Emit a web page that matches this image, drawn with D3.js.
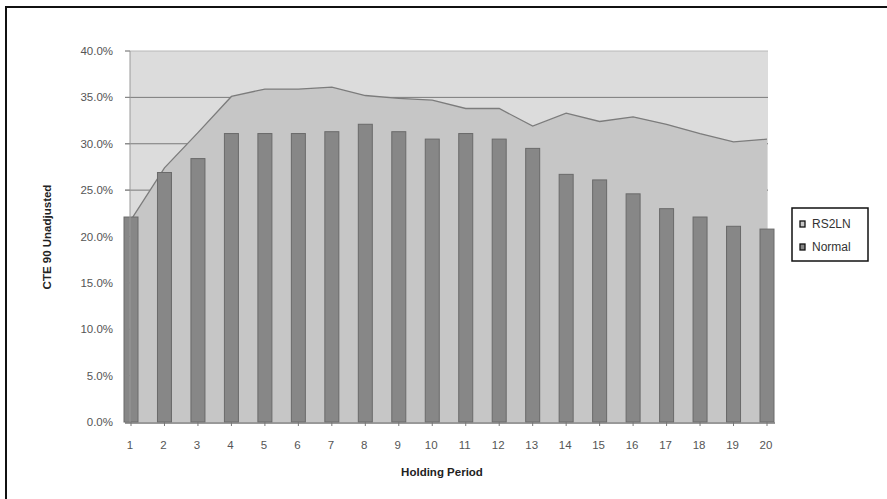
<!DOCTYPE html>
<html><head><meta charset="utf-8">
<script src="https://cdn.jsdelivr.net/npm/d3@7"></script>
<style>body{margin:0;background:#fff}svg{display:block}text{font-family:"Liberation Sans",Arial,sans-serif}</style>
</head><body><svg id="c" width="887" height="499"></svg>
<script>
const categories = [1,2,3,4,5,6,7,8,9,10,11,12,13,14,15,16,17,18,19,20];
const rs2ln = [21.8,27.4,31.2,35.1,35.9,35.9,36.1,35.2,34.9,34.7,33.8,33.8,31.9,33.3,32.4,32.9,32.1,31.1,30.2,30.5];
const normal = [22.1,26.9,28.4,31.1,31.1,31.1,31.3,32.1,31.3,30.5,31.1,30.5,29.5,26.7,26.1,24.6,23.0,22.1,21.1,20.8];
const yTicks = [0,5,10,15,20,25,30,35,40];
const seriesNames = ["RS2LN","Normal"];

const svg = d3.select("#c");
const x = d3.scaleLinear().domain([1,20]).range([131,767]);
const y = d3.scaleLinear().domain([0,40]).range([422,51]);
const barW = 14;

// frame (top and left only, as in scan)
svg.append("line").attr("x1",6).attr("x2",887).attr("y1",7).attr("y2",7).attr("stroke","#111").attr("stroke-width",2);
svg.append("line").attr("x1",6).attr("x2",6).attr("y1",6).attr("y2",499).attr("stroke","#111").attr("stroke-width",2);

// plot background
svg.append("rect").attr("x",130).attr("y",y(40)).attr("width",768-130).attr("height",y(0)-y(40)).attr("fill","#dcdcdc");

// gridlines
svg.append("g").selectAll("line").data(yTicks.filter(d=>d>0)).join("line")
  .attr("x1",125).attr("x2",768).attr("y1",d=>y(d)).attr("y2",d=>y(d))
  .attr("stroke",d=>d===40?"#b8b8b8":"#7a7a7a").attr("stroke-width",1);

// area
const pts = categories.map((c,i)=>[c,rs2ln[i]]);
svg.append("path").datum(pts)
  .attr("d", d3.area().x(d=>x(d[0])).y0(y(0)).y1(d=>y(d[1])))
  .attr("fill","#c6c6c6");
svg.append("path").datum(pts)
  .attr("d", d3.line().x(d=>x(d[0])).y(d=>y(d[1])))
  .attr("fill","none").attr("stroke","#7c7c7c").attr("stroke-width",1.3);

// bars
svg.append("g").selectAll("rect").data(categories).join("rect")
  .attr("x",(d)=>x(d)-barW/2).attr("width",barW)
  .attr("y",(d,i)=>y(normal[i])).attr("height",(d,i)=>y(0)-y(normal[i]))
  .attr("fill","#878787").attr("stroke","#6a6a6a").attr("stroke-width",1);

// left axis
svg.append("line").attr("x1",130).attr("x2",130).attr("y1",y(40)).attr("y2",y(0)).attr("stroke","#999");
svg.append("g").selectAll("line").data(yTicks).join("line")
  .attr("x1",125).attr("x2",130).attr("y1",d=>y(d)).attr("y2",d=>y(d)).attr("stroke","#888");
svg.append("g").selectAll("text").data(yTicks).join("text")
  .attr("x",113).attr("y",d=>y(d)+4).attr("text-anchor","end")
  .attr("font-size",11.5).attr("fill","#555").text(d=>d.toFixed(1)+"%");

// bottom axis
svg.append("line").attr("x1",125).attr("x2",775).attr("y1",y(0)+1).attr("y2",y(0)+1).attr("stroke","#777").attr("stroke-width",1.5);
svg.append("g").selectAll("line").data(categories).join("line")
  .attr("x1",d=>x(d)).attr("x2",d=>x(d)).attr("y1",y(0)).attr("y2",y(0)+4).attr("stroke","#777");
svg.append("g").selectAll("text").data(categories).join("text")
  .attr("x",d=>x(d)-1).attr("y",449).attr("text-anchor","middle")
  .attr("font-size",11.5).attr("fill","#555").text(d=>d);

// titles
svg.append("text").attr("x",442).attr("y",476).attr("text-anchor","middle")
  .attr("font-size",11.5).attr("font-weight","bold").attr("fill","#222").text("Holding Period");
svg.append("text").attr("transform","translate(51,237) rotate(-90)").attr("text-anchor","middle")
  .attr("font-size",11.5).attr("font-weight","bold").attr("fill","#222").text("CTE 90 Unadjusted");

// legend
const lg = svg.append("g");
lg.append("rect").attr("x",792).attr("y",208).attr("width",76).attr("height",53).attr("fill","#fff").attr("stroke","#111").attr("stroke-width",1.5);
const lgColors = ["#c6c6c6","#878787"];
seriesNames.forEach((n,i)=>{
  lg.append("rect").attr("x",800).attr("y",221+i*23).attr("width",5).attr("height",6).attr("fill",lgColors[i]).attr("stroke","#111").attr("stroke-width",1.3);
  lg.append("text").attr("x",812).attr("y",228+i*23).attr("font-size",12).attr("fill","#333").text(n);
});
</script></body></html>
